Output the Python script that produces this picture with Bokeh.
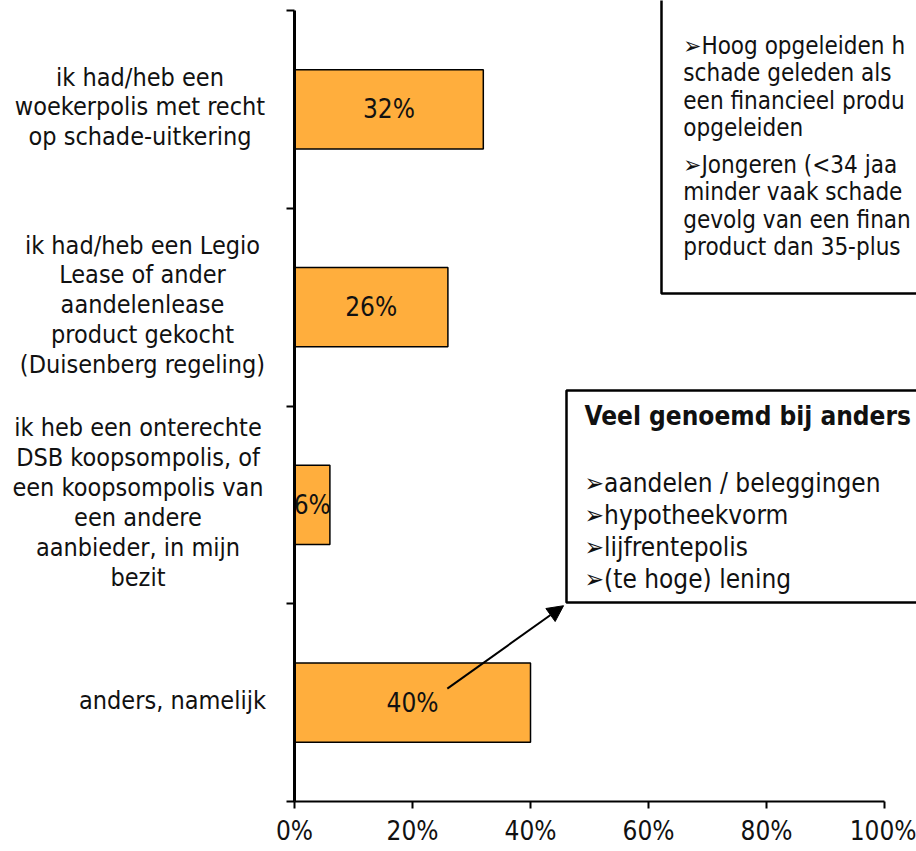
from bokeh.plotting import figure
from bokeh.layouts import row
from bokeh.models import ColumnDataSource, FixedTicker, Label, BoxAnnotation, Arrow, NormalHead, Range1d
from bokeh.core.properties import value
from bokeh.embed import file_html
from bokeh.resources import INLINE

# ---------------- data ----------------
categories = [
    "ik had/heb een\nwoekerpolis met recht\nop schade-uitkering",
    "ik had/heb een Legio\nLease of ander\naandelenlease\nproduct gekocht\n(Duisenberg regeling)",
    "ik heb een onterechte\nDSB koopsompolis, of\neen koopsompolis van\neen andere\naanbieder, in mijn\nbezit",
    "anders, namelijk",
]
values = [32, 26, 6, 40]
x_ticks = [0, 20, 40, 60, 80, 100]
x_tick_labels = ["0%", "20%", "40%", "60%", "80%", "100%"]

# text of the two call-out boxes, as far as it is visible
box1_bullets = [
    "\u27a2Hoog opgeleiden h\nschade geleden als\neen financieel produ\nopgeleiden",
    "\u27a2Jongeren (<34 jaa\nminder vaak schade\ngevolg van een finan\nproduct dan 35-plus",
]
box2_title = "Veel genoemd bij anders"
box2_bullets = ["aandelen / beleggingen", "hypotheekvorm", "lijfrentepolis", "(te hoge) lening"]

# ---------------- styling ----------------
FONT = "DejaVu Sans Condensed"
BAR_COLOR = "#FFAE3D"
TXT = "#111111"
H = 851
LEFT_W = 272          # width of the category-label panel
MAIN_W = 916 - LEFT_W

n = len(categories)
ys = [n - i - 0.5 for i in range(n)]
src = ColumnDataSource(dict(
    y=ys, v=values, mid=[v / 2 for v in values],
    lab=[f"{v}%" for v in values],
))

y_range = Range1d(0, 4.0506)

# ---------- main chart ----------
p = figure(width=MAIN_W, height=H, x_range=(0, 105.42), y_range=y_range,
           output_backend="svg", toolbar_location=None,
           min_border_left=22, min_border_right=0, min_border_top=0, min_border_bottom=50)
p.xgrid.visible = False
p.ygrid.visible = False
p.outline_line_color = None
p.background_fill_color = "white"
p.border_fill_color = "white"

p.hbar(y="y", left=0, right="v", height=0.4, source=src,
       fill_color=BAR_COLOR, line_color="black", line_width=1.5)
p.text(x="mid", y="y", text="lab", source=src, text_align="center", text_baseline="middle",
       text_font=value(FONT), text_font_size="26px", text_color=TXT)

xa = p.xaxis[0]
xa.ticker = FixedTicker(ticks=x_ticks)
xa.major_label_overrides = {t: l for t, l in zip(x_ticks, x_tick_labels)}
xa.bounds = (0, 100)
xa.axis_line_width = 2
xa.axis_line_color = "black"
xa.major_tick_out = 7
xa.major_tick_in = 0
xa.major_tick_line_width = 2
xa.minor_tick_line_color = None
xa.major_label_text_font = FONT
xa.major_label_text_font_size = "26px"
xa.major_label_text_color = TXT
xa.major_label_standoff = 7

ya = p.yaxis[0]
ya.ticker = FixedTicker(ticks=list(range(n + 1)))
ya.major_label_overrides = {t: "" for t in range(n + 1)}
ya.major_label_standoff = 0
ya.bounds = (0, n)
ya.axis_line_width = 3
ya.axis_line_color = "black"
ya.major_tick_out = 8
ya.major_tick_in = 0
ya.major_tick_line_width = 2
ya.minor_tick_line_color = None

# call-out box 1 (top right)
p.add_layout(BoxAnnotation(left=62.2, right=130, bottom=2.569, top=6,
                           fill_color="white", fill_alpha=1.0,
                           line_color="black", line_alpha=1.0, line_width=2.5))
for txt, yy in zip(box1_bullets, [3.613, 3.011]):
    p.add_layout(Label(x=65.9, y=yy, text=txt, text_align="left", text_baseline="middle",
                       text_font=FONT, text_font_size="24px", text_color=TXT,
                       text_line_height=0.985))

# call-out box 2 (middle right)
p.add_layout(BoxAnnotation(left=46.1, right=130, bottom=1.006, top=2.078,
                           fill_color="white", fill_alpha=1.0,
                           line_color="black", line_alpha=1.0, line_width=2.5))
p.add_layout(Label(x=49.15, y=1.947, text=box2_title, text_align="left", text_baseline="middle",
                   text_font=FONT, text_font_size="26px", text_font_style="bold",
                   text_color=TXT))
p.add_layout(Label(x=49.15, y=1.367, text="\n".join("\u27a2" + b for b in box2_bullets),
                   text_align="left", text_baseline="middle",
                   text_font=FONT, text_font_size="26px", text_color=TXT,
                   text_line_height=1.07))

p.add_layout(Arrow(x_start=25.9, y_start=0.571, x_end=45.6, y_end=0.99,
                   line_color="black", line_width=2,
                   end=NormalHead(size=16, fill_color="black", line_color="black")))

# ---------- category label panel (shares the y scale) ----------
q = figure(width=LEFT_W, height=H, x_range=(0, LEFT_W), y_range=y_range,
           output_backend="svg", toolbar_location=None,
           x_axis_location=None, y_axis_location=None,
           min_border_left=0, min_border_right=0, min_border_top=0, min_border_bottom=50)
q.xgrid.visible = False
q.ygrid.visible = False
q.outline_line_color = None
q.background_fill_color = "white"
q.border_fill_color = "white"

label_cx = [139.5, 142, 137.5, 172]
lsrc = ColumnDataSource(dict(x=label_cx, y=[y + 0.012 for y in ys], t=categories))
q.text(x="x", y="y", text="t", source=lsrc, text_align="center", text_baseline="middle",
       text_font=value(FONT), text_font_size="25px", text_color=TXT, text_line_height=1.03)

layout = row(q, p, spacing=0)
open("out.html", "w").write(file_html(layout, INLINE))
